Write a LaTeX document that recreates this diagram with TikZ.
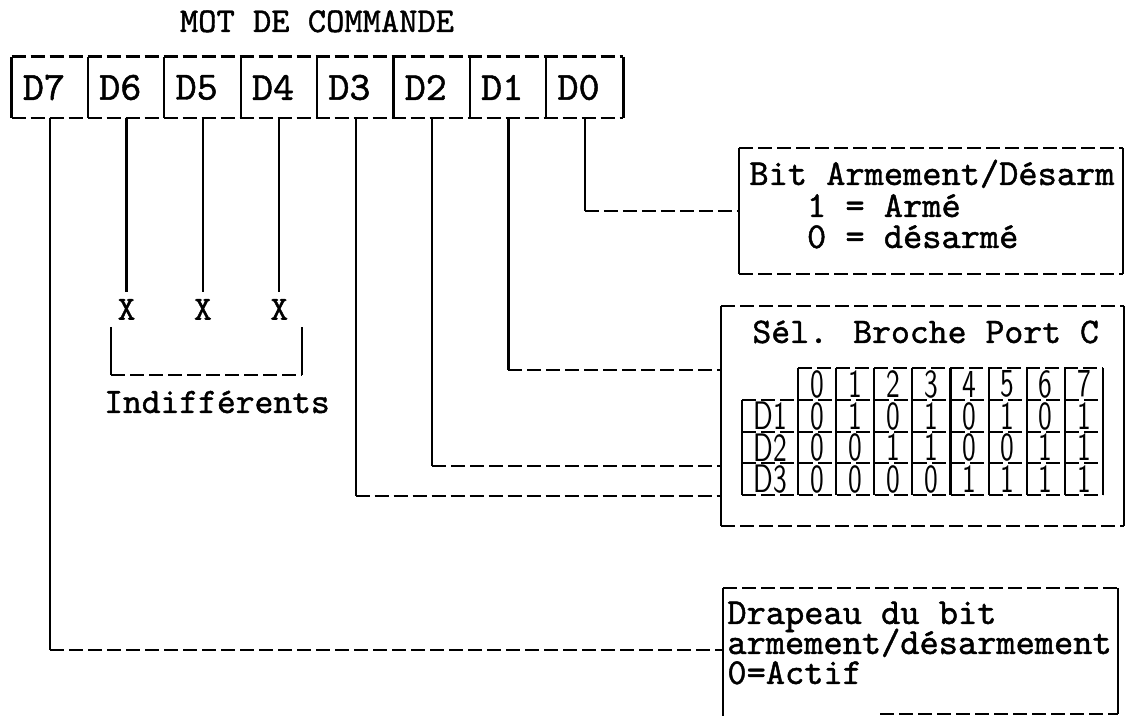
\documentclass[tikz,border=0pt]{standalone}
\usepackage{fontspec}
\usepackage{graphicx}
\usetikzlibrary{calc}
\newfontfamily\tw{lmmono10-regular.otf}[FakeBold=1.2]
\newcommand\talldigit[1]{\scalebox{1}[1.42]{#1}}
\begin{document}
\begin{tikzpicture}[x=0.5pt,y=-0.5pt,
  vl/.style={line width=1.1pt},
  hl/.style={line width=1.1pt, dash pattern=on 7pt off 2.5pt},
  cell/.style={inner xsep=5.5pt, inner ysep=0pt, text width=27.2pt, align=left,
    minimum height=30.5pt, font=\tw\fontsize{20}{22}\selectfont},
  frame/.style={inner sep=0pt, draw=none},
  boxtxt/.style={anchor=base west, inner sep=0pt, font=\tw\fontsize{18.3}{20}\selectfont},
  xlab/.style={inner xsep=0pt, inner ysep=3.5pt, font=\tw\fontsize{17}{19}\selectfont},
  dig/.style={inner sep=0pt, font=\sffamily\fontsize{14}{16}\selectfont}
]
\useasboundingbox (0,0) rectangle (1126,716);

% title
\node[anchor=base, inner sep=0pt, font=\tw\fontsize{17.4}{19}\selectfont] (title) at (317,32) {MOT DE COMMANDE};

% command word cells
\foreach \n [count=\i from 0] in {7,6,5,4,3,2,1,0} {
  \node[cell] (d\n) at ({12+38.1875+\i*76.375},87.5) {D\n};
}
\foreach \n in {7,6,5,4,3,2,1,0} {
  \draw[vl] (d\n.north west) -- (d\n.south west);
}
\draw[vl] (d0.north east) -- (d0.south east);
\draw[hl] (d7.north west) -- (d0.north east);
\draw[hl] (d7.south west) -- (d0.south east);

% don't care bits
\path (d6.south) ++(0,191) node[xlab] (x6) {X};
\path (d5.south) ++(0,191) node[xlab] (x5) {X};
\path (d4.south) ++(0,191) node[xlab] (x4) {X};
\draw[vl] (d6.south) -- (x6.north);
\draw[vl] (d5.south) -- (x5.north);
\draw[vl] (d4.south) -- (x4.north);
\coordinate (bl1) at (111,327);
\coordinate (bl2) at (111,375);
\coordinate (br1) at (302,327);
\coordinate (br2) at (302,375);
\draw[vl] (bl1) -- (bl2);
\draw[hl] (bl2) -- (br2);
\draw[vl] (br2) -- (br1);
\node[anchor=base, inner sep=0pt, font=\tw\fontsize{17.9}{20}\selectfont] (ind) at (217,413) {Indifférents};

% box 1
\node[frame, minimum width=191.5pt, minimum height=62.5pt, anchor=north west] (b1) at (739,148) {};
\node[boxtxt] (b1l1) at (749,185) {Bit Armement/Désarm};
\node[boxtxt] (b1l2) at (749,217) {\phantom{000}1 = Armé};
\node[boxtxt] (b1l3) at (749,248) {\phantom{000}0 = désarmé};

% box 2
\node[frame, minimum width=201pt, minimum height=109.5pt, anchor=north west] (b2) at (721,306) {};
\node[boxtxt, font=\tw\fontsize{18}{20}\selectfont] (b2l1) at (752,343) {Sél. Broche Port C};

\foreach \b in {b1,b2} {
  \draw[vl] (\b.north west) -- (\b.south west);
  \draw[vl] (\b.north east) -- (\b.south east);
  \draw[hl] (\b.north west) -- (\b.north east);
  \draw[hl] (\b.south west) -- (\b.south east);
}

% table inside box 2
\foreach \v [count=\j from 0] in {0,...,7} {
  \node[dig] (h\j) at ({817.06+38.125*\j},384) {\talldigit{\v}};
}
\foreach \r/\vals/\yy in {1/{0,1,0,1,0,1,0,1}/416, 2/{0,0,1,1,0,0,1,1}/447.5, 3/{0,0,0,0,1,1,1,1}/479} {
  \node[dig] (r\r-l) at (770,\yy) {\talldigit{D\r}};
  \foreach \v [count=\j from 0] in \vals {
    \node[dig] (r\r-\j) at ({817.06+38.125*\j},\yy) {\talldigit{\v}};
  }
}
\foreach \j in {0,...,8} {
  \draw[vl] ({798+38.125*\j},368) -- ({798+38.125*\j},495);
}
\draw[vl] (742,400) -- (742,495);
\draw[hl] (798,368) -- (1103,368);
\foreach \yy in {400,432,463,495} {
  \draw[hl] (742,\yy) -- (1103,\yy);
}

% box 3
\node[frame, minimum width=197pt, minimum height=62.5pt, anchor=north west] (b3) at (723,588) {};
\node[boxtxt] (b3l1) at (727,624) {Drapeau du bit};
\node[boxtxt] (b3l2) at (727,654) {armement/désarmement};
\node[boxtxt] (b3l3) at (727,684) {0=Actif};
\coordinate (b3cut) at ($(b3.south west)+(157,0)$);
\draw[vl] (b3.north west) -- ($(b3.south west)+(0,4)$);
\draw[vl] (b3.north east) -- (b3.south east);
\draw[hl] (b3.north west) -- (b3.north east);
\draw[hl] (b3cut) -- (b3.south east);

% connectors
\coordinate (k0) at (d0.south |- b1.west);
\draw[vl] (d0.south) -- (k0);
\draw[hl] (k0) -- (b1.west);

\coordinate (y1) at (0,370);
\coordinate (k1) at (d1.south |- y1);
\draw[vl] (d1.south) -- (k1);
\draw[hl] (k1) -- (b2.west |- y1);

\coordinate (y2) at (0,466);
\coordinate (k2) at (d2.south |- y2);
\draw[vl] (d2.south) -- (k2);
\draw[hl] (k2) -- (b2.west |- y2);

\coordinate (y3) at (0,496);
\coordinate (k3) at (d3.south |- y3);
\draw[vl] (d3.south) -- (k3);
\draw[hl] (k3) -- (b2.west |- y3);

\coordinate (y7) at (0,650);
\coordinate (k7) at (d7.south |- y7);
\draw[vl] (d7.south) -- (k7);
\draw[hl] (k7) -- (b3.west |- y7);
\end{tikzpicture}
\end{document}
